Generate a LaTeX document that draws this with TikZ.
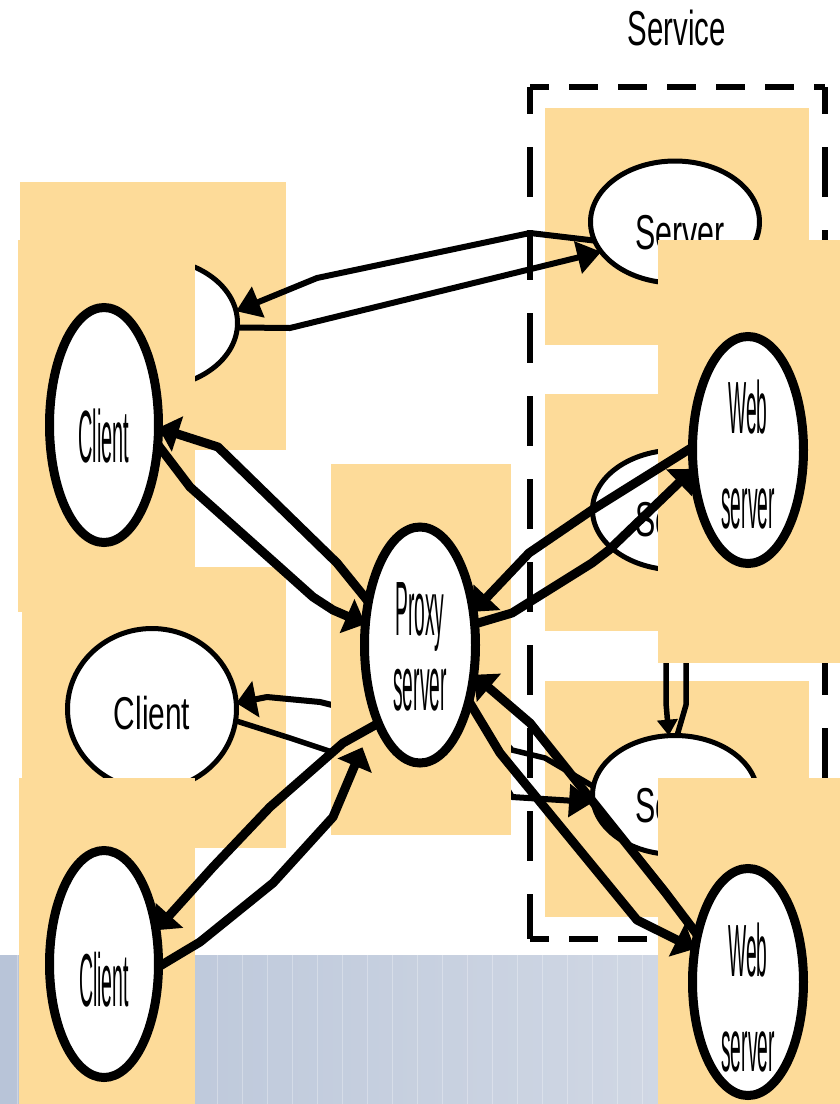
\documentclass[tikz,border=0pt]{standalone}
\usepackage{fontspec}
\setmainfont{Liberation Sans}
\usetikzlibrary{shapes.geometric, arrows.meta}

\definecolor{padorange}{RGB}{253,219,153}
\definecolor{bandleft}{RGB}{184,196,216}
\definecolor{bandright}{RGB}{214,220,231}

% squeeze a word sideways
\newcommand{\sqz}[2]{\scalebox{#1}[1]{#2}}

\begin{document}
\begin{tikzpicture}[
    x=1pt, y=-1pt,
    pad/.style={fill=padorange},
    heavy/.style={ellipse, draw, fill=white, line width=9pt,
                  inner sep=0pt, outer sep=0pt},
    light/.style={ellipse, draw, fill=white, line width=5pt,
                  inner sep=0pt, outer sep=0pt},
    link/.style={line width=9pt, line join=round,
                 -{Triangle[length=20pt, width=36pt]}},
    thinlink/.style={line width=6pt, line join=round,
                     -{Triangle[length=24pt, width=32pt]}},
    wire/.style={line width=5.5pt, line join=round},
    svc/.style={line width=6pt},
    bigtxt/.style={font=\fontsize{74pt}{95pt}\selectfont, align=center},
    midtxt/.style={font=\fontsize{49pt}{55pt}\selectfont}
  ]
  \useasboundingbox (0,0) rectangle (840,1104);

  % bottom band
  \shade[left color=bandleft, right color=bandright] (0,955) rectangle (840,1104);
  \foreach \x in {17,42,...,840}
    \draw[white, opacity=.3, line width=1pt] (\x,955) -- (\x,1104);

  % service boundary
  \draw[svc, dash pattern=on 29pt off 20pt, dash phase=10pt] (530,87) -- (825,87);
  \draw[svc, dash pattern=on 29pt off 20pt, dash phase=10pt] (530,939) -- (825,939);
  \draw[svc, dash pattern=on 50pt off 33pt, dash phase=23pt] (530,87) -- (530,939);
  \draw[svc, dash pattern=on 50pt off 33pt, dash phase=23pt] (825,87) -- (825,939);
  \node[midtxt, inner sep=0pt] (service) at (677,27.5) {\sqz{0.6}{Service}};

  % servers
  \fill[pad] (545,108) rectangle (809,345);
  \node[light, minimum width=169pt, minimum height=122pt,
        label={[midtxt, xshift=5pt, yshift=-10.5pt]center:\sqz{0.62}{Server}}]
        (srvA) at (675,222) {};
  \fill[pad] (545,394) rectangle (809,631);
  \node[light, minimum width=169pt, minimum height=120pt,
        label={[midtxt, xshift=3pt, yshift=-9.5pt]center:\sqz{0.62}{Server}}]
        (srvB) at (677,510) {};
  \fill[pad] (545,681) rectangle (809,917);
  \node[light, minimum width=165pt, minimum height=119pt,
        label={[midtxt, xshift=5pt, yshift=-10.5pt]center:\sqz{0.62}{Server}}]
        (srvC) at (675,795) {};

  % web server <-> server
  \draw[wire, -{Triangle[length=16pt, width=20pt]}]
    (748,560) -- (666,640) -- (666,703) -- (srvC.96);
  \draw[wire] (srvC.88) -- (686,705) -- (686,640) -- (752,560);

  % web servers
  \fill[pad] (658,240) rectangle (840,663);
  \node[heavy, minimum width=111pt, minimum height=227pt,
        label={[bigtxt, yshift=-5pt]center:{\sqz{0.26}{Web}\\\sqz{0.26}{server}}}]
        (webA) at (748,450) {};
  \fill[pad] (658,778) rectangle (840,1104);
  \node[heavy, minimum width=111pt, minimum height=227pt,
        label={[bigtxt, yshift=-16pt]center:{\sqz{0.26}{Web}\\\sqz{0.26}{server}}}]
        (webB) at (748,982) {};

  % clients
  \fill[pad] (20,182) rectangle (286,450);
  \node[light, minimum width=171pt, minimum height=129pt] (stub) at (152,323) {};
  \fill[pad] (18,240) rectangle (195,612);
  \node[heavy, minimum width=109pt, minimum height=235pt,
        label={[bigtxt, yshift=-11.5pt]center:\sqz{0.27}{Client}}]
        (clientA) at (104,425) {};
  \fill[pad] (22,567) rectangle (286,848);
  \node[light, minimum width=169pt, minimum height=161pt,
        label={[font=\fontsize{46pt}{50pt}\selectfont, yshift=-4.5pt]center:\sqz{0.65}{Client}}]
        (clientB) at (152,709) {};
  \fill[pad] (19,778) rectangle (195,1104);
  \node[heavy, minimum width=109pt, minimum height=227pt,
        label={[bigtxt, font=\fontsize{75pt}{95pt}\selectfont, yshift=-16pt]center:\sqz{0.26}{Client}}]
        (clientC) at (104,964) {};

  % proxy (before its box goes on top)
  \coordinate (pin) at (420,645);
  \draw[thinlink, -{Triangle[length=20pt, width=36pt]}]
    (pin) -- (340,707) -- (320,702) -- (267,697) -- (clientB.4);
  \draw[wire] (clientB.-8) -- (290,738) -- (332,752) -- (pin);
  \draw[wire] (srvC.174) -- (545,758) -- (512,750) -- (pin);
  \draw[thinlink] (pin) -- (512,797) -- (560,800) -- (srvC.185);

  \fill[pad] (331,464) rectangle (511,835);
  \node[heavy, minimum width=111pt, minimum height=236pt,
        label={[font=\fontsize{77pt}{75pt}\selectfont, align=center, yshift=-2pt]center:{\sqz{0.25}{Proxy}\\\sqz{0.25}{server}}}]
        (proxy) at (420,645) {};

  % client <-> proxy
  \draw[link] (proxy.140) -- (337,563) -- (218,447) -- (clientA.-3);
  \draw[link] (clientA.-20) -- (190,487) -- (313,597) -- (333,610) -- (proxy.159);
  \draw[link] (proxy.-118) -- (343,743) -- (270,807) -- (213,867) -- (clientC.33);
  \draw[link, shorten >=34pt] (clientC.-3) -- (200,942) -- (273,883) -- (333,817) -- (proxy.-122);

  % proxy <-> web servers
  \draw[link] (webA.177) -- (592,510) -- (529,553) -- (proxy.32);
  \draw[link] (proxy.21) -- (512,613) -- (592,563) -- (609,550) -- (webA.-161);
  \draw[link] (webB.137) -- (665,892) -- (530,723) -- (proxy.-29);
  \draw[link] (proxy.-49) -- (500,753) -- (637,920) -- (webB.148);

  % client <-> server
  \draw[thinlink] (srvA.-167) -- (530,233) -- (317,278) -- (stub.8);
  \draw[thinlink] (stub.-3) -- (290,328) -- (srvA.-158);
\end{tikzpicture}
\end{document}
